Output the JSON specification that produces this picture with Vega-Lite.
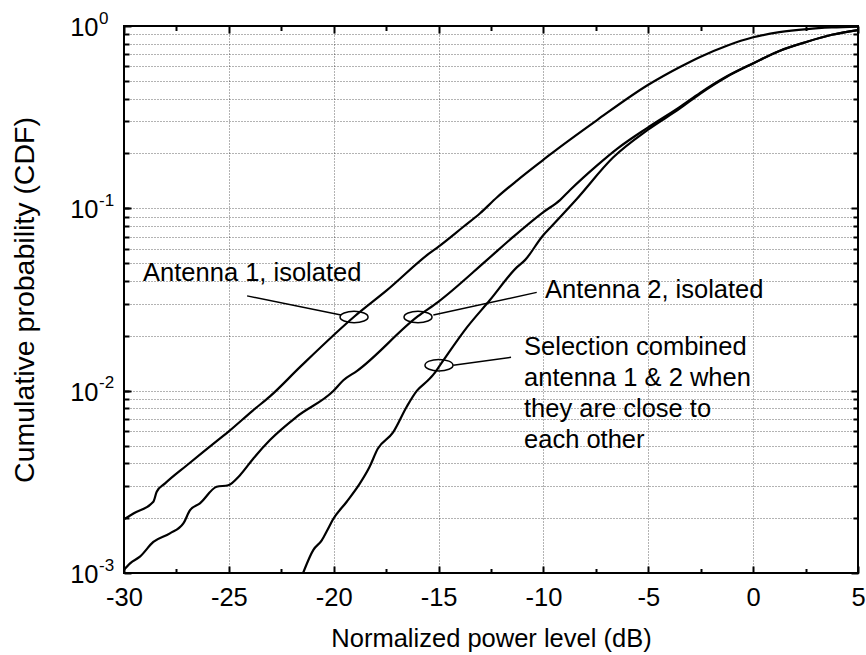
{
  "$schema": "https://vega.github.io/schema/vega-lite/v6.json",
  "width": 734,
  "height": 547,
  "autosize": {"type": "none"},
  "padding": {"left": 124, "top": 26, "right": 8, "bottom": 82},
  "background": "white",
  "config": {
    "font": "Liberation Sans",
    "view": {"stroke": "#000", "strokeWidth": 2},
    "axis": {
      "labelFont": "Liberation Sans", "labelFontSize": 25.5, "labelColor": "#000",
      "titleFont": "Liberation Sans", "titleFontSize": 25.5, "titleFontWeight": "normal", "titleColor": "#000",
      "tickColor": "#000", "tickWidth": 2, "domain": false,
      "gridColor": "#000", "gridDash": [1, 2], "gridWidth": 1, "gridOpacity": 0.6,
      "labelFlush": false, "labelOverlap": false
    }
  },
  "datasets": {
    "curves": [
      {"s": "a1", "dB": -30, "cdf": 0.00197}, {"s": "a1", "dB": -29.55, "cdf": 0.00212}, {"s": "a1", "dB": -28.6, "cdf": 0.00246},
      {"s": "a1", "dB": -28.44, "cdf": 0.00279}, {"s": "a1", "dB": -28.04, "cdf": 0.0031}, {"s": "a1", "dB": -27.0, "cdf": 0.0039},
      {"s": "a1", "dB": -26.22, "cdf": 0.00462}, {"s": "a1", "dB": -25.42, "cdf": 0.00548}, {"s": "a1", "dB": -25.03, "cdf": 0.00595},
      {"s": "a1", "dB": -23.83, "cdf": 0.00783}, {"s": "a1", "dB": -23.04, "cdf": 0.0093}, {"s": "a1", "dB": -21.6, "cdf": 0.0135},
      {"s": "a1", "dB": -19.0, "cdf": 0.0256}, {"s": "a1", "dB": -17.46, "cdf": 0.0356}, {"s": "a1", "dB": -15.41, "cdf": 0.057},
      {"s": "a1", "dB": -15.03, "cdf": 0.0613}, {"s": "a1", "dB": -13.83, "cdf": 0.079}, {"s": "a1", "dB": -13.02, "cdf": 0.094},
      {"s": "a1", "dB": -12.21, "cdf": 0.115}, {"s": "a1", "dB": -11.26, "cdf": 0.142}, {"s": "a1", "dB": -10.02, "cdf": 0.184},
      {"s": "a1", "dB": -9.69, "cdf": 0.197}, {"s": "a1", "dB": -7.44, "cdf": 0.305}, {"s": "a1", "dB": -5.0, "cdf": 0.476},
      {"s": "a1", "dB": -3.49, "cdf": 0.596}, {"s": "a1", "dB": -2.53, "cdf": 0.677}, {"s": "a1", "dB": -1.25, "cdf": 0.78},
      {"s": "a1", "dB": 0, "cdf": 0.867}, {"s": "a1", "dB": 1.25, "cdf": 0.925}, {"s": "a1", "dB": 2.57, "cdf": 0.962},
      {"s": "a1", "dB": 3.75, "cdf": 0.982}, {"s": "a1", "dB": 5, "cdf": 0.993},

      {"s": "a2", "dB": -30, "cdf": 0.00104}, {"s": "a2", "dB": -29.71, "cdf": 0.00113}, {"s": "a2", "dB": -29.24, "cdf": 0.00123},
      {"s": "a2", "dB": -28.6, "cdf": 0.00148}, {"s": "a2", "dB": -27.81, "cdf": 0.00165}, {"s": "a2", "dB": -27.17, "cdf": 0.00187},
      {"s": "a2", "dB": -26.85, "cdf": 0.00221}, {"s": "a2", "dB": -26.38, "cdf": 0.00241}, {"s": "a2", "dB": -25.58, "cdf": 0.00297},
      {"s": "a2", "dB": -25.03, "cdf": 0.00303}, {"s": "a2", "dB": -24.47, "cdf": 0.00344}, {"s": "a2", "dB": -23.83, "cdf": 0.00425},
      {"s": "a2", "dB": -23.04, "cdf": 0.00536}, {"s": "a2", "dB": -21.76, "cdf": 0.0072}, {"s": "a2", "dB": -20.02, "cdf": 0.00995},
      {"s": "a2", "dB": -19.54, "cdf": 0.0114}, {"s": "a2", "dB": -18.9, "cdf": 0.0128}, {"s": "a2", "dB": -15.98, "cdf": 0.0256},
      {"s": "a2", "dB": -15.03, "cdf": 0.0306}, {"s": "a2", "dB": -12.7, "cdf": 0.052}, {"s": "a2", "dB": -11.43, "cdf": 0.0699},
      {"s": "a2", "dB": -10.02, "cdf": 0.095}, {"s": "a2", "dB": -9.21, "cdf": 0.111}, {"s": "a2", "dB": -8.73, "cdf": 0.126},
      {"s": "a2", "dB": -7.44, "cdf": 0.172}, {"s": "a2", "dB": -6.49, "cdf": 0.212}, {"s": "a2", "dB": -5.01, "cdf": 0.278},
      {"s": "a2", "dB": -3.49, "cdf": 0.36}, {"s": "a2", "dB": -2.53, "cdf": 0.43}, {"s": "a2", "dB": -1.25, "cdf": 0.53},
      {"s": "a2", "dB": 0, "cdf": 0.625}, {"s": "a2", "dB": 1.25, "cdf": 0.73}, {"s": "a2", "dB": 2.57, "cdf": 0.82},
      {"s": "a2", "dB": 3.75, "cdf": 0.895}, {"s": "a2", "dB": 5, "cdf": 0.95},

      {"s": "sel", "dB": -21.46, "cdf": 0.001}, {"s": "sel", "dB": -20.97, "cdf": 0.00134}, {"s": "sel", "dB": -20.57, "cdf": 0.00151},
      {"s": "sel", "dB": -20.3, "cdf": 0.00172}, {"s": "sel", "dB": -20.03, "cdf": 0.00197}, {"s": "sel", "dB": -19.38, "cdf": 0.00246},
      {"s": "sel", "dB": -18.75, "cdf": 0.0031}, {"s": "sel", "dB": -18.3, "cdf": 0.0038}, {"s": "sel", "dB": -17.9, "cdf": 0.0048},
      {"s": "sel", "dB": -17.17, "cdf": 0.0059}, {"s": "sel", "dB": -16.52, "cdf": 0.00816}, {"s": "sel", "dB": -16.03, "cdf": 0.01},
      {"s": "sel", "dB": -15.5, "cdf": 0.0114}, {"s": "sel", "dB": -15.26, "cdf": 0.0122}, {"s": "sel", "dB": -14.93, "cdf": 0.0138},
      {"s": "sel", "dB": -13.64, "cdf": 0.0223}, {"s": "sel", "dB": -12.55, "cdf": 0.0314}, {"s": "sel", "dB": -11.26, "cdf": 0.0476},
      {"s": "sel", "dB": -10.88, "cdf": 0.052}, {"s": "sel", "dB": -10.02, "cdf": 0.071}, {"s": "sel", "dB": -9.69, "cdf": 0.078},
      {"s": "sel", "dB": -8.4, "cdf": 0.113}, {"s": "sel", "dB": -6.68, "cdf": 0.19}, {"s": "sel", "dB": -5.01, "cdf": 0.27},
      {"s": "sel", "dB": -3.49, "cdf": 0.353}, {"s": "sel", "dB": -2.53, "cdf": 0.425}, {"s": "sel", "dB": -1.25, "cdf": 0.527},
      {"s": "sel", "dB": 0, "cdf": 0.623}, {"s": "sel", "dB": 1.25, "cdf": 0.73}, {"s": "sel", "dB": 2.57, "cdf": 0.82},
      {"s": "sel", "dB": 3.75, "cdf": 0.895}, {"s": "sel", "dB": 5, "cdf": 0.95}
    ],
    "ellipses": [
      {"ex": -19.03, "ey": 0.02535}, {"ex": -15.98, "ey": 0.02535}, {"ex": -14.98, "ey": 0.0138}
    ],
    "leaders": [
      {"x1": -24.13, "y1": 0.0331, "x2": -19.65, "y2": 0.026},
      {"x1": -15.25, "y1": 0.026, "x2": -10.32, "y2": 0.0346},
      {"x1": -14.3, "y1": 0.01377, "x2": -11.545, "y2": 0.01523}
    ],
    "labels": [
      {"tx": -29.09, "ty": 0.0401, "label": ["Antenna 1, isolated"]},
      {"tx": -9.92, "ty": 0.03235, "label": ["Antenna 2, isolated"]},
      {"tx": -10.925, "ty": 0.01567, "label": ["Selection combined", "antenna 1 & 2 when", "they are close to", "each other"]}
    ]
  },
  "resolve": {"axis": {"x": "independent", "y": "independent"}},
  "layer": [
    {
      "data": {"name": "curves"},
      "mark": {"type": "line", "color": "#000", "strokeWidth": 2.2, "clip": true, "interpolate": "monotone"},
      "encoding": {
        "x": {"field": "dB", "type": "quantitative", "scale": {"domain": [-30, 5], "nice": false, "zero": false},
          "axis": {"orient": "bottom", "values": [-30, -25, -20, -15, -10, -5, 0, 5], "tickSize": -7, "labelPadding": 19,
            "labelExpr": "'' + datum.value", "grid": true, "title": null}},
        "y": {"field": "cdf", "type": "quantitative", "scale": {"type": "log", "domain": [0.001, 1], "nice": false},
          "axis": {"orient": "left", "values": [0.001, 0.01, 0.1, 1], "tickSize": -7, "labelPadding": 33, "grid": false,
            "labelExpr": "'10'", "labelAlign": "right", "labelBaseline": "middle", "labelOffset": 1.5, "title": null}},
        "detail": {"field": "s", "type": "nominal"}
      }
    },
    {
      "data": {"name": "curves"},
      "mark": {"type": "line", "strokeOpacity": 0},
      "encoding": {
        "x": {"field": "dB", "type": "quantitative",
          "axis": {"orient": "bottom", "values": [-27.5, -22.5, -17.5, -12.5, -7.5, -2.5, 2.5], "tickSize": -4.5, "labels": false, "grid": false,
            "title": "Normalized power level (dB)", "titlePadding": 52}},
        "y": {"field": "cdf", "type": "quantitative",
          "axis": {"orient": "left", "values": [0.002, 0.003, 0.004, 0.005, 0.006, 0.007, 0.008, 0.009, 0.01, 0.02, 0.03, 0.04, 0.05, 0.06, 0.07, 0.08, 0.09, 0.1, 0.2, 0.3, 0.4, 0.5, 0.6, 0.7, 0.8, 0.9],
            "tickSize": -5, "labels": false, "grid": true,
            "title": "Cumulative probability (CDF)", "titleFontSize": 28.5, "titlePadding": 84}},
        "detail": {"field": "s", "type": "nominal"}
      }
    },
    {
      "data": {"name": "curves"},
      "mark": {"type": "line", "strokeOpacity": 0},
      "encoding": {
        "x": {"field": "dB", "type": "quantitative",
          "axis": {"orient": "top", "values": [-30, -25, -20, -15, -10, -5, 0, 5], "tickSize": -7, "labels": false, "grid": false, "title": null}},
        "y": {"field": "cdf", "type": "quantitative",
          "axis": {"orient": "right", "values": [0.001, 0.01, 0.1, 1], "tickSize": -7, "labels": false, "grid": false, "title": null}},
        "detail": {"field": "s", "type": "nominal"}
      }
    },
    {
      "data": {"name": "curves"},
      "mark": {"type": "line", "strokeOpacity": 0},
      "encoding": {
        "x": {"field": "dB", "type": "quantitative",
          "axis": {"orient": "top", "values": [-27.5, -22.5, -17.5, -12.5, -7.5, -2.5, 2.5], "tickSize": -4.5, "labels": false, "grid": false, "title": null}},
        "y": {"field": "cdf", "type": "quantitative",
          "axis": {"orient": "right", "values": [0.002, 0.003, 0.004, 0.005, 0.006, 0.007, 0.008, 0.009, 0.02, 0.03, 0.04, 0.05, 0.06, 0.07, 0.08, 0.09, 0.2, 0.3, 0.4, 0.5, 0.6, 0.7, 0.8, 0.9],
            "tickSize": -5, "labels": false, "grid": false, "title": null}},
        "detail": {"field": "s", "type": "nominal"}
      }
    },
    {
      "data": {"name": "curves"},
      "mark": {"type": "line", "strokeOpacity": 0},
      "encoding": {
        "y": {"field": "cdf", "type": "quantitative",
          "axis": {"orient": "left", "values": [0.001, 0.01, 0.1, 1], "ticks": false, "labelPadding": 25.5, "grid": false,
            "labelExpr": "datum.value > 0.5 ? '0' : datum.value > 0.05 ? '-1' : datum.value > 0.005 ? '-2' : '-3'",
            "labelFontSize": 17, "labelAlign": "left", "labelBaseline": "middle", "labelOffset": -8, "title": null}},
        "x": {"field": "dB", "type": "quantitative", "axis": null},
        "detail": {"field": "s", "type": "nominal"}
      }
    },
    {
      "data": {"name": "ellipses"},
      "mark": {"type": "point", "shape": "M-1,0A1,0.41,0,1,0,1,0A1,0.41,0,1,0,-1,0Z", "size": 784, "filled": false, "stroke": "#000", "strokeWidth": 1.5, "opacity": 1},
      "encoding": {
        "x": {"field": "ex", "type": "quantitative", "axis": null},
        "y": {"field": "ey", "type": "quantitative", "axis": null}
      }
    },
    {
      "data": {"name": "leaders"},
      "mark": {"type": "rule", "color": "#000", "strokeWidth": 1.5},
      "encoding": {
        "x": {"field": "x1", "type": "quantitative", "axis": null},
        "y": {"field": "y1", "type": "quantitative", "axis": null},
        "x2": {"field": "x2"},
        "y2": {"field": "y2"}
      }
    },
    {
      "data": {"name": "labels"},
      "mark": {"type": "text", "align": "left", "baseline": "alphabetic", "fontSize": 25.5, "lineHeight": 31, "color": "#000", "font": "Liberation Sans"},
      "encoding": {
        "x": {"field": "tx", "type": "quantitative", "axis": null},
        "y": {"field": "ty", "type": "quantitative", "axis": null},
        "text": {"field": "label"}
      }
    }
  ]
}
